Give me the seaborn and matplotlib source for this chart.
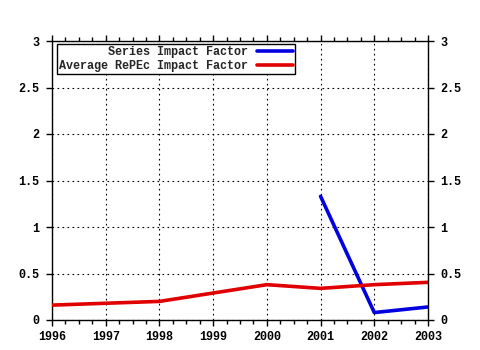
import matplotlib
matplotlib.use("Agg")
import matplotlib.pyplot as plt
from matplotlib.ticker import MultipleLocator, FixedLocator
import seaborn as sns
import pandas as pd

years = [1996, 1997, 1998, 1999, 2000, 2001, 2002, 2003]
avg_repec_if = [0.16, 0.18, 0.20, 0.29, 0.38, 0.34, 0.38, 0.405]
series_years = [2001, 2002, 2003]
series_if = [1.33, 0.08, 0.14]
y_ticks = [0, 0.5, 1, 1.5, 2, 2.5, 3]
y_tick_labels = ["0", "0.5", "1", "1.5", "2", "2.5", "3"]

sns.set_style("white")
plt.rcParams["font.family"] = ["Liberation Mono", "DejaVu Sans Mono"]
plt.rcParams["font.weight"] = "bold"
plt.rcParams["font.size"] = 8.5

fig = plt.figure(figsize=(4.8, 3.5), dpi=100)
ax = fig.add_axes([52 / 480, 30 / 350, 376 / 480, 279 / 350])

df_series = pd.DataFrame({"year": series_years, "value": series_if})
df_avg = pd.DataFrame({"year": years, "value": avg_repec_if})

sns.lineplot(data=df_series, x="year", y="value", ax=ax, color="#0000e0",
             linewidth=2.6, label="Series Impact Factor", zorder=3)
sns.lineplot(data=df_avg, x="year", y="value", ax=ax, color="#e00000",
             linewidth=2.6, label="Average RePEc Impact Factor", zorder=3)

ax.set_xlim(1996, 2003)
ax.set_ylim(0, 3)
ax.set_xlabel("")
ax.set_ylabel("")
ax.xaxis.set_major_locator(FixedLocator(years))
ax.set_xticklabels([str(y) for y in years])
ax.xaxis.set_minor_locator(MultipleLocator(0.25))
ax.set_yticks(y_ticks)
ax.set_yticklabels(y_tick_labels)

ax.grid(True, which="major", color="black", linestyle=(0, (1.5, 3)), linewidth=0.8)
for s in ax.spines.values():
    s.set_color("black")
    s.set_linewidth(1.0)

ax.tick_params(axis="x", which="major", direction="out", length=4, width=1,
               top=True, bottom=True, labelsize=8.5, pad=4, colors="black")
ax.tick_params(axis="x", which="minor", direction="out", length=3, width=1,
               top=True, bottom=True, color="black")
ax.tick_params(axis="y", which="major", direction="out", length=4, width=1,
               left=True, right=True, labelleft=True, labelright=True,
               labelsize=8.5, pad=5, colors="black")
for lbl in ax.get_xticklabels() + ax.get_yticklabels():
    lbl.set_fontweight("bold")

leg = ax.legend(loc="upper left", bbox_to_anchor=(0.014, 0.988), frameon=True,
                fancybox=False, framealpha=1, edgecolor="black",
                markerfirst=False, handlelength=3.0, handletextpad=0.8,
                borderpad=0.15, labelspacing=0.2, borderaxespad=0)
leg.get_frame().set_linewidth(1.0)
for t in leg.get_texts():
    t.set_ha("right")
    t.set_fontweight("bold")
leg._legend_box.align = "right"
for vp in leg._legend_box.get_children()[1].get_children():
    vp.align = "right"

fig.savefig("out.png", dpi=100)
